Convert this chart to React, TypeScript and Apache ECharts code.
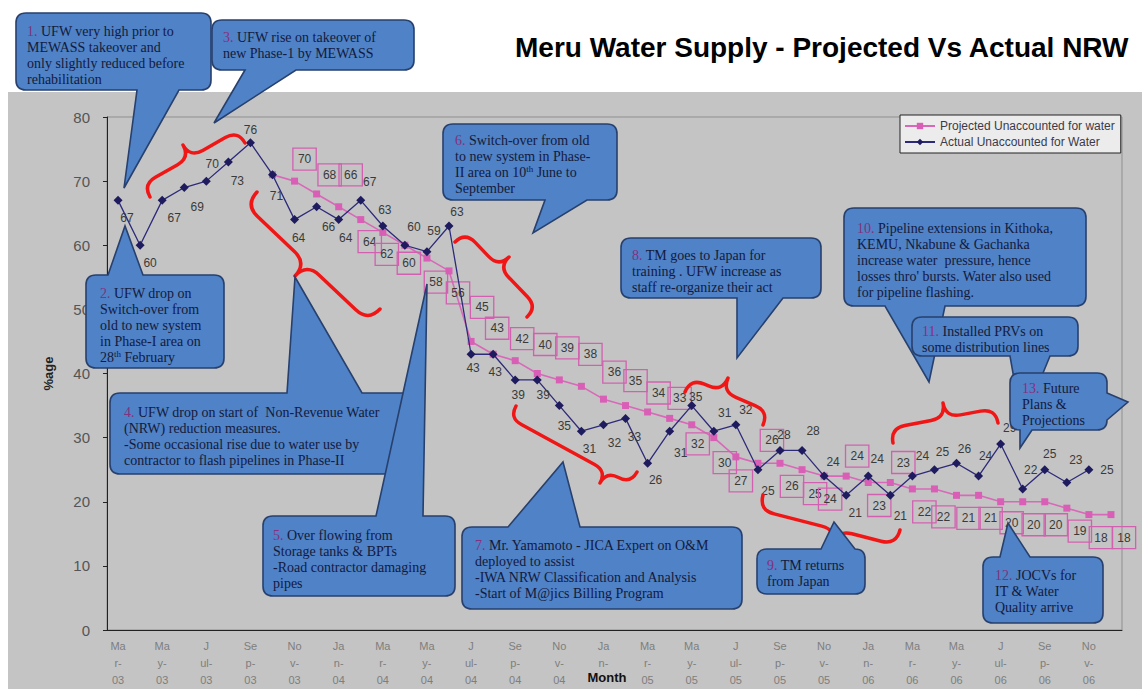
import React, { useEffect, useRef } from "react";
import * as echarts from "echarts";

// Monthly categories, Mar-03 .. Dec-06
const months = [
  "Mar-03", "Apr-03", "May-03", "Jun-03", "Jul-03", "Aug-03", "Sep-03", "Oct-03", "Nov-03", "Dec-03",
  "Jan-04", "Feb-04", "Mar-04", "Apr-04", "May-04", "Jun-04", "Jul-04", "Aug-04", "Sep-04", "Oct-04", "Nov-04", "Dec-04",
  "Jan-05", "Feb-05", "Mar-05", "Apr-05", "May-05", "Jun-05", "Jul-05", "Aug-05", "Sep-05", "Oct-05", "Nov-05", "Dec-05",
  "Jan-06", "Feb-06", "Mar-06", "Apr-06", "May-06", "Jun-06", "Jul-06", "Aug-06", "Sep-06", "Oct-06", "Nov-06", "Dec-06",
];

// Wrapped tick labels, one for every second month (the Jan-05 year sits under the axis title)
const tickLabels = [
  "Ma\nr-\n03", "Ma\ny-\n03", "J\nul-\n03", "Se\np-\n03", "No\nv-\n03",
  "Ja\nn-\n04", "Ma\nr-\n04", "Ma\ny-\n04", "J\nul-\n04", "Se\np-\n04", "No\nv-\n04",
  "Ja\nn-", "Ma\nr-\n05", "Ma\ny-\n05", "J\nul-\n05", "Se\np-\n05", "No\nv-\n05",
  "Ja\nn-\n06", "Ma\nr-\n06", "Ma\ny-\n06", "J\nul-\n06", "Se\np-\n06", "No\nv-\n06",
];

// Actual unaccounted-for water (%)
const actualNRW: (number | null)[] = [
  67, 60, 67, 69, 70, 73, 76, 71, 64, 66,
  64, 67, 63, 60, 59, 63, 43, 43, 39, 39, 35, 31,
  32, 33, 26, 31, 35, 31, 32, 25, 28, 28, 24, 21,
  24, 21, 24, 25, 26, 24, 29, 22, 25, 23, 25, null,
];

// Projected unaccounted-for water (%)
const projectedNRW: (number | null)[] = [
  null, null, null, null, null, null, null, 71, 70, 68,
  66, 64, 62, 60, 58, 56, 45, 43, 42, 40, 39, 38,
  36, 35, 34, 33, 32, 30, 27, 26, 26, 25, 24, 24,
  23, 23, 22, 22, 21, 21, 20, 20, 20, 19, 18, 18,
];

// Label placement (dx, dy from the marker centre)
const actualLabelOffsets: ([number, number] | null)[] = [
  [9, 18], [10, 18], [12, 18], [13, 19], [6, -17], [9, 19], [0, -13], [4, 21], [4, 18], [12, 20],
  [7, 18], [9, -18], [2, -16], [9, -18], [7, -21], [8, -14], [2, 14], [2, 18], [3, 15], [6, 15], [5, 20], [8, 18],
  [11, 18], [9, 19], [8, 17], [11, 22], [4, -9], [11, -18], [10, -15], [10, 21], [4, -15], [11, -19], [9, -14], [9, 18],
  [9, -17], [10, 21], [10, -20], [8, -18], [8, -14], [7, -20], [9, -16], [8, -19], [5, -16], [9, -23], [18, 0], null,
];

const projectedLabelOffsets: ([number, number] | null)[] = [
  null, null, null, null, null, null, null, null,
  [10, -22], [13, -19], [12, -32], [9, 22], [4, 22], [4, 18], [9, 24], [9, 22], [11, -34], [4, -26],
  [7, -22], [8, -29], [8, -32], [9, -32], [11, -27], [10, -25], [11, -19], [10, -20], [6, 19], [11, 25],
  [5, 24], [14, -23], [12, 23], [13, 24], [6, 23], [11, -20], [11, 23], [13, -20], [12, 23], [9, 28],
  [12, 23], [12, 23], [11, 21], [11, 23], [11, 23], [13, 23], [12, 23], [13, 23],
];

// Red braces marking trends: two ends and the tip of each brace
const braces: { a: [number, number]; b: [number, number]; tip: [number, number] }[] = [
  { a: [150, 197], b: [245, 143], tip: [183, 145] },
  { a: [257, 192], b: [380, 309], tip: [295, 276] },
  { a: [455, 242], b: [527, 317], tip: [509, 257] },
  { a: [516, 406], b: [637, 472], tip: [600, 483] },
  { a: [685, 392], b: [763, 425], tip: [728, 378] },
  { a: [763, 495], b: [900, 530], tip: [833, 545] },
  { a: [893, 443], b: [998, 423], tip: [943, 403] },
];

type Tail = { edge: "top" | "bottom" | "left" | "right"; a: number; b: number; tip: [number, number] };
type Callout = { box: [number, number, number, number]; tails: Tail[]; text: [number, number]; lines: string[] };

// Speech-bubble notes
const callouts: Callout[] = [
  {
    box: [16, 13, 195, 77], tails: [{ edge: "bottom", a: 137, b: 179, tip: [124, 188] }], text: [27, 23],
    lines: ["{n|1.} UFW very high prior to", "MEWASS takeover and", "only slightly reduced before", "rehabilitation"],
  },
  {
    box: [86, 275, 138, 93], tails: [{ edge: "top", a: 108, b: 143, tip: [125, 226] }], text: [100, 285],
    lines: ["{n|2.} UFW drop on", "Switch-over from", "old to new system", "in Phase-I area on", "28{sup|th} February"],
  },
  {
    box: [212, 20, 202, 50], tails: [{ edge: "bottom", a: 245, b: 296, tip: [214, 123] }], text: [223, 29],
    lines: ["{n|3.} UFW rise on takeover of", "new Phase-1 by MEWASS"],
  },
  {
    box: [110, 393, 303, 81], tails: [{ edge: "top", a: 287, b: 362, tip: [295, 277] }], text: [124, 404],
    lines: [
      "{n|4.} UFW drop on start of  Non-Revenue Water", "(NRW) reduction measures.",
      "-Some occasional rise due to water use by", "contractor to flash pipelines in Phase-II",
    ],
  },
  {
    box: [263, 516, 192, 80], tails: [{ edge: "top", a: 376, b: 423, tip: [427, 284] }], text: [273, 527],
    lines: ["{n|5.} Over flowing from", "Storage tanks & BPTs", "-Road contractor damaging", "pipes"],
  },
  {
    box: [443, 124, 174, 76], tails: [{ edge: "bottom", a: 545, b: 587, tip: [533, 233] }], text: [455, 132],
    lines: ["{n|6.} Switch-over from old", "to new system in Phase-", "II area on 10{sup|th} June to", "September"],
  },
  {
    box: [462, 527, 280, 82], tails: [{ edge: "top", a: 508, b: 580, tip: [563, 462] }], text: [475, 537],
    lines: [
      "{n|7.} Mr. Yamamoto - JICA Expert on O&M", "deployed to assist",
      "-IWA NRW Classification and Analysis", "-Start of M@jics Billing Program",
    ],
  },
  {
    box: [621, 238, 200, 60], tails: [{ edge: "bottom", a: 737, b: 783, tip: [737, 358] }], text: [632, 247],
    lines: ["{n|8.} TM goes to Japan for", "training . UFW increase as", "staff re-organize their act"],
  },
  {
    box: [757, 549, 108, 45], tails: [{ edge: "top", a: 821, b: 855, tip: [834, 522] }], text: [767, 557],
    lines: ["{n|9.} TM returns", "from Japan"],
  },
  {
    box: [844, 208, 242, 98], tails: [{ edge: "bottom", a: 885, b: 945, tip: [929, 382] }], text: [857, 220],
    lines: [
      "{n|10.} Pipeline extensions in Kithoka,", "KEMU, Nkabune & Gachanka", "increase water  pressure, hence",
      "losses thro' bursts. Water also used", "for pipeline flashing.",
    ],
  },
  {
    box: [912, 317, 166, 39], tails: [{ edge: "bottom", a: 1010, b: 1050, tip: [1022, 424] }], text: [922, 323],
    lines: ["{n|11.} Installed PRVs on", "some distribution lines"],
  },
  {
    box: [983, 557, 120, 66], tails: [{ edge: "top", a: 1000, b: 1030, tip: [1008, 523] }], text: [995, 567],
    lines: ["{n|12.} JOCVs for", "IT & Water", "Quality arrive"],
  },
  {
    box: [1010, 373, 97, 57],
    tails: [
      { edge: "bottom", a: 1020, b: 1032, tip: [1020, 448] },
      { edge: "right", a: 393, b: 420, tip: [1128, 402] },
    ],
    text: [1022, 380],
    lines: ["{n|13.} Future", "Plans &", "Projections"],
  },
];

const SANS = '"Liberation Sans", Arial, sans-serif';
const SERIF = '"Liberation Serif", "Times New Roman", serif';

function calloutPath(c: Callout): string {
  const [x, y, w, h] = c.box;
  const r = 10;
  const R = x + w;
  const B = y + h;
  const by = (e: string) => c.tails.filter((t) => t.edge === e);
  const p: string[] = [`M${x + r},${y}`];
  by("top").sort((m, n) => m.a - n.a).forEach((t) => p.push(`L${t.a},${y}`, `L${t.tip[0]},${t.tip[1]}`, `L${t.b},${y}`));
  p.push(`L${R - r},${y}`, `Q${R},${y} ${R},${y + r}`);
  by("right").sort((m, n) => m.a - n.a).forEach((t) => p.push(`L${R},${t.a}`, `L${t.tip[0]},${t.tip[1]}`, `L${R},${t.b}`));
  p.push(`L${R},${B - r}`, `Q${R},${B} ${R - r},${B}`);
  by("bottom").sort((m, n) => n.a - m.a).forEach((t) => p.push(`L${t.b},${B}`, `L${t.tip[0]},${t.tip[1]}`, `L${t.a},${B}`));
  p.push(`L${x + r},${B}`, `Q${x},${B} ${x},${B - r}`);
  by("left").sort((m, n) => n.a - m.a).forEach((t) => p.push(`L${x},${t.b}`, `L${t.tip[0]},${t.tip[1]}`, `L${x},${t.a}`));
  p.push(`L${x},${y + r}`, `Q${x},${y} ${x + r},${y}`, "Z");
  return p.join(" ");
}

function bracePath(br: { a: [number, number]; b: [number, number]; tip: [number, number] }): string {
  const [ax, ay] = br.a;
  const dx = br.b[0] - ax;
  const dy = br.b[1] - ay;
  const L = Math.hypot(dx, dy);
  const ux = dx / L;
  const uy = dy / L;
  const tx = br.tip[0] - ax;
  const ty = br.tip[1] - ay;
  const along = tx * ux + ty * uy;
  const h = -tx * uy + ty * ux;
  const r = Math.min(Math.abs(h) / 2, along / 2, (L - along) / 2);
  const g = (s: number, t: number) => `${(ax + s * ux - t * uy).toFixed(1)},${(ay + s * uy + t * ux).toFixed(1)}`;
  const m = h / 2;
  return [
    `M${g(0, 0)}`,
    `Q${g(0, m)} ${g(r, m)}`,
    `L${g(along - r, m)}`,
    `Q${g(along, m)} ${g(along, h)}`,
    `Q${g(along, m)} ${g(along + r, m)}`,
    `L${g(L - r, m)}`,
    `Q${g(L, m)} ${g(L, 0)}`,
  ].join(" ");
}

export default function App() {
  const ref = useRef<HTMLDivElement>(null);

  useEffect(() => {
    document.body.style.margin = "0";
    const el = ref.current;
    if (!el) return;

    echarts.graphic.registerShape("nrwBraces", echarts.graphic.extendPath(braces.map(bracePath).join(" "), {}));
    callouts.forEach((c, i) => {
      echarts.graphic.registerShape(`nrwCallout${i}`, echarts.graphic.extendPath(calloutPath(c), {}));
    });

    const chart = echarts.init(el, null, { renderer: "svg" });

    const actualItems = actualNRW.map((v, i) => ({
      value: v === null ? "-" : v,
      label: actualLabelOffsets[i] ? { offset: actualLabelOffsets[i] } : { show: false },
    }));
    const projectedItems = projectedNRW.map((v, i) => ({
      value: v === null ? "-" : v,
      label: projectedLabelOffsets[i] ? { offset: projectedLabelOffsets[i] } : { show: false },
    }));

    const calloutElements: any[] = [];
    callouts.forEach((c, i) => {
      calloutElements.push({
        type: `nrwCallout${i}`,
        x: 0,
        y: 0,
        z: 50 + i * 2,
        silent: true,
        style: { fill: "#4f82c6", stroke: "#27406e", lineWidth: 1.6 },
      });
      calloutElements.push({
        type: "text",
        x: c.text[0],
        y: c.text[1],
        z: 51 + i * 2,
        silent: true,
        style: {
          text: c.lines.join("\n"),
          font: `14px ${SERIF}`,
          fill: "#141a3c",
          lineHeight: 16,
          align: "left",
          verticalAlign: "top",
          rich: {
            n: { font: `14px ${SERIF}`, fill: "#86307f", lineHeight: 16 },
            sup: { font: `9px ${SERIF}`, fill: "#141a3c", verticalAlign: "top", lineHeight: 16 },
          },
        },
      });
    });

    chart.setOption({
      animation: false,
      textStyle: { fontFamily: SANS },
      grid: {
        left: 107,
        right: 20,
        top: 117,
        bottom: 59,
        show: true,
        backgroundColor: "transparent",
        borderColor: "#8f8f8f",
        borderWidth: 1,
      },
      legend: {
        orient: "vertical",
        left: 900,
        top: 115,
        padding: [4, 6, 4, 4],
        itemGap: 2,
        itemWidth: 30,
        itemHeight: 8,
        backgroundColor: "#ececec",
        borderColor: "#222",
        borderWidth: 1,
        borderRadius: 0,
        textStyle: { fontFamily: SANS, fontSize: 12, color: "#3a3a4a", lineHeight: 14 },
        data: ["Projected Unaccounted for water", "Actual Unaccounted for Water"],
      },
      xAxis: {
        type: "category",
        data: months,
        boundaryGap: true,
        axisLine: { lineStyle: { color: "#222", width: 1 } },
        axisTick: { interval: 1, length: 5, lineStyle: { color: "#222" } },
        axisLabel: {
          interval: 1,
          margin: 7,
          color: "#7e7e7e",
          fontSize: 11,
          lineHeight: 17,
          fontFamily: SANS,
          verticalAlign: "top",
          formatter: (_v: string, idx: number) => (idx % 2 === 0 ? tickLabels[idx / 2] : ""),
        },
        splitLine: { show: false },
      },
      yAxis: {
        type: "value",
        min: 0,
        max: 80,
        interval: 10,
        name: "%age",
        nameLocation: "middle",
        nameGap: 52,
        nameTextStyle: { fontWeight: "bold", fontSize: 13, color: "#222", fontFamily: SANS },
        axisLine: { show: true, lineStyle: { color: "#222", width: 1 } },
        axisTick: { show: true, length: 4, lineStyle: { color: "#222" } },
        axisLabel: { color: "#555", fontSize: 15, margin: 17, fontFamily: SANS },
        splitLine: { show: false },
      },
      series: [
        {
          name: "Projected Unaccounted for water",
          type: "line",
          data: projectedItems,
          symbol: "rect",
          symbolSize: 7,
          z: 2,
          lineStyle: { color: "#d868b8", width: 1.6 },
          itemStyle: { color: "#d95fb6" },
          emphasis: { disabled: true },
          label: {
            show: true,
            position: "inside",
            fontFamily: SANS,
            fontSize: 12,
            color: "#3a3a3a",
            lineHeight: 13,
            padding: [5, 5, 4, 5],
            borderColor: "#d260b0",
            borderWidth: 1.3,
          },
        },
        {
          name: "Actual Unaccounted for Water",
          type: "line",
          data: actualItems,
          symbol: "diamond",
          symbolSize: 9,
          z: 3,
          lineStyle: { color: "#2d2a7a", width: 1.3 },
          itemStyle: { color: "#1e1b5e" },
          emphasis: { disabled: true },
          label: {
            show: true,
            position: "inside",
            fontFamily: SANS,
            fontSize: 12,
            color: "#3a3a3a",
          },
        },
      ],
      graphic: {
        elements: [
          {
            type: "rect",
            z: -10,
            silent: true,
            shape: { x: 8, y: 92, width: 1134, height: 597 },
            style: { fill: "#c4c4c4" },
          },
          {
            type: "text",
            x: 515,
            y: 47,
            silent: true,
            style: {
              text: "Meru Water Supply - Projected Vs Actual NRW",
              font: `bold 28px ${SANS}`,
              fill: "#000",
              verticalAlign: "middle",
            },
          },
          {
            type: "text",
            x: 607,
            y: 677,
            z: 10,
            silent: true,
            style: {
              text: "Month",
              font: `bold 13px ${SANS}`,
              fill: "#111",
              align: "center",
              verticalAlign: "middle",
            },
          },
          {
            type: "nrwBraces",
            x: 0,
            y: 0,
            z: 40,
            silent: true,
            style: { fill: "none", stroke: "#f01616", lineWidth: 3.5, lineCap: "round", lineJoin: "round" },
          },
          ...calloutElements,
        ],
      },
    });

    return () => chart.dispose();
  }, []);

  return <div ref={ref} style={{ width: 1142, height: 689 }} />;
}
